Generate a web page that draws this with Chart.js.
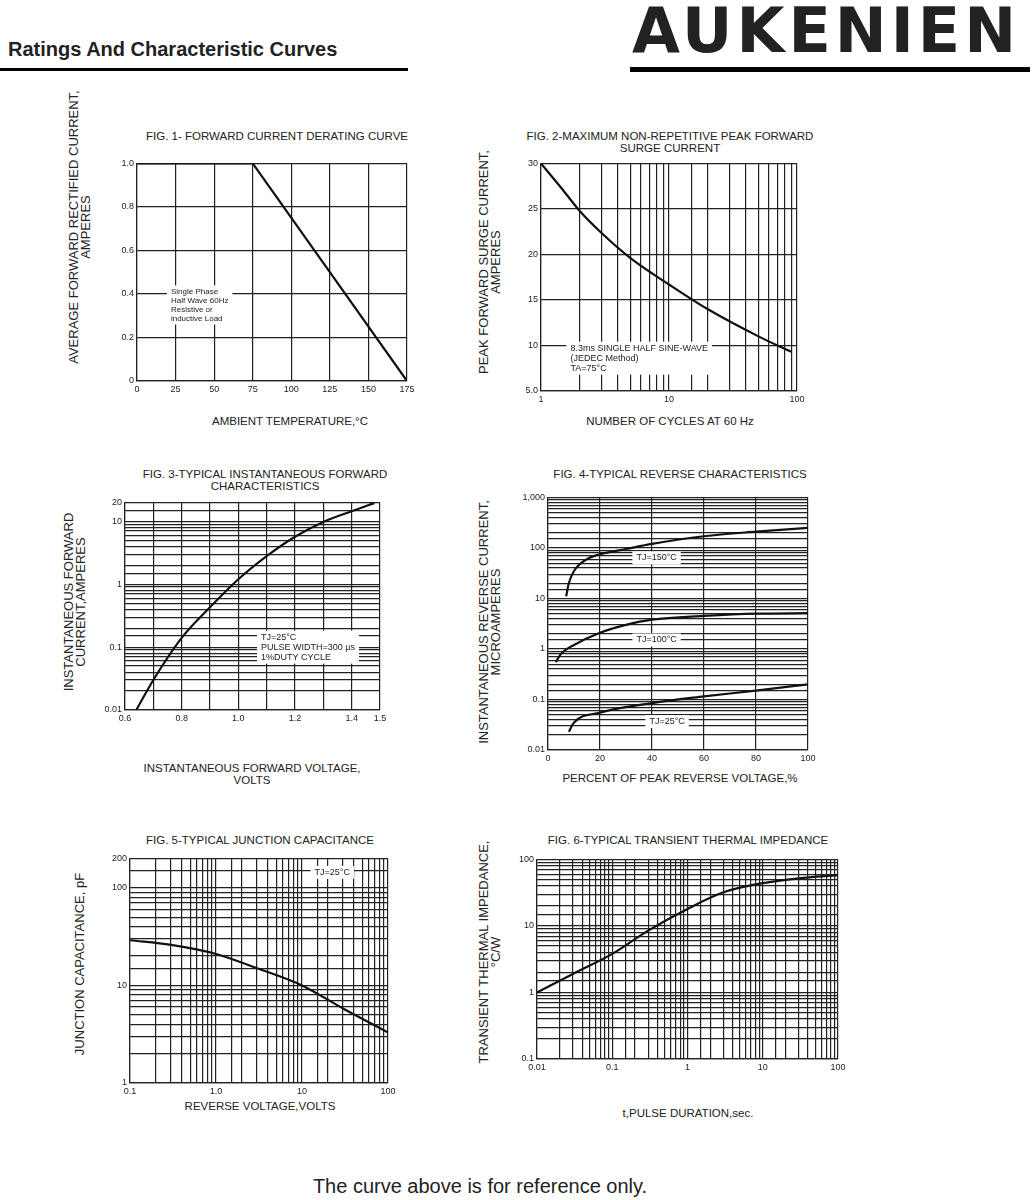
<!DOCTYPE html>
<html><head><meta charset="utf-8">
<script src="https://cdn.jsdelivr.net/npm/chart.js@4"></script>
<style>
body{margin:0;background:#fff;font-family:"Liberation Sans",Arial,sans-serif;}
#page{position:relative;width:1035px;height:1200px;}
.t{position:absolute;color:#222;white-space:nowrap;}
.ft{font-size:11.5px;text-align:center;line-height:12px;}
.xl{font-size:11.5px;text-align:center;}
.yl{font-size:13px;text-align:center;line-height:12px;transform:rotate(-90deg);transform-origin:center;}
canvas{position:absolute;}
</style></head><body><div id="page">
<div class="t" style="left:8px;top:38px;font-size:20px;font-weight:bold;">Ratings And Characteristic Curves</div>
<div style="position:absolute;left:0;top:68px;width:408px;height:3px;background:#000"></div>
<div class="t" style="left:632px;top:-6px;font-size:62px;font-weight:900;letter-spacing:4px;font-family:'DejaVu Sans';">AUKENIEN</div>
<div style="position:absolute;left:630px;top:67px;width:400px;height:5px;background:#000"></div>
<div class="t" style="left:0;width:960px;top:1175px;font-size:20px;text-align:center;">The curve above is for reference only.</div>

<div class="t ft" style="left:107px;width:340px;top:130px;">FIG. 1- FORWARD CURRENT DERATING CURVE</div>
<div class="t ft" style="left:500px;width:340px;top:130px;">FIG. 2-MAXIMUM NON-REPETITIVE PEAK FORWARD<br>SURGE CURRENT</div>
<div class="t ft" style="left:95px;width:340px;top:468px;">FIG. 3-TYPICAL INSTANTANEOUS FORWARD<br>CHARACTERISTICS</div>
<div class="t ft" style="left:510px;width:340px;top:468px;">FIG. 4-TYPICAL REVERSE CHARACTERISTICS</div>
<div class="t ft" style="left:90px;width:340px;top:834px;">FIG. 5-TYPICAL JUNCTION CAPACITANCE</div>
<div class="t ft" style="left:518px;width:340px;top:834px;">FIG. 6-TYPICAL TRANSIENT THERMAL IMPEDANCE</div>

<div class="t xl" style="left:120px;width:340px;top:415px;">AMBIENT TEMPERATURE,°C</div>
<div class="t xl" style="left:500px;width:340px;top:415px;">NUMBER OF CYCLES AT 60 Hz</div>
<div class="t xl" style="left:82px;width:340px;top:762px;line-height:12px;">INSTANTANEOUS FORWARD VOLTAGE,<br>VOLTS</div>
<div class="t xl" style="left:510px;width:340px;top:772px;">PERCENT OF PEAK REVERSE VOLTAGE,%</div>
<div class="t xl" style="left:90px;width:340px;top:1100px;">REVERSE VOLTAGE,VOLTS</div>
<div class="t xl" style="left:518px;width:340px;top:1107px;">t,PULSE DURATION,sec.</div>

<div class="t yl" style="left:-90px;width:340px;top:215px;">AVERAGE FORWARD RECTIFIED CURRENT,<br>AMPERES</div>
<div class="t yl" style="left:320px;width:340px;top:250px;">PEAK  FORWARD SURGE CURRENT,<br>AMPERES</div>
<div class="t yl" style="left:-75px;width:300px;top:590px;">INSTANTANEOUS FORWARD<br>CURRENT,AMPERES</div>
<div class="t yl" style="left:320px;width:340px;top:610px;">INSTANTANEOUS REVERSE CURRENT,<br>MICROAMPERES</div>
<div class="t yl" style="left:-90px;width:340px;top:958px;">JUNCTION CAPACITANCE, pF</div>
<div class="t yl" style="left:320px;width:340px;top:940px;">TRANSIENT THERMAL IMPEDANCE,<br>°C/W</div>
</div>
<script>
// Fig 1
const f1Temp = [0, 75, 175];
const f1Curr = [1, 1, 0];
// Fig 2
const f2Cycles = [1, 1.5, 2, 3, 5, 10, 20, 50, 90];
const f2Surge = [30, 27, 24.8, 22.3, 19.6, 16.7, 14, 11, 9.3];
// Fig 3
const f3Volt = [0.64, 0.7, 0.8, 0.9, 1.0, 1.1, 1.2, 1.3, 1.4, 1.48];
const f3Curr = [0.01, 0.03, 0.14, 0.43, 1.2, 2.8, 5.7, 9.8, 14.5, 19.5];
// Fig 4
const f4x150 = [7, 8, 10, 15, 20, 30, 40, 60, 80, 100];
const f4y150 = [11, 20, 35, 60, 75, 95, 120, 170, 210, 250];
const f4x100 = [3, 5, 10, 20, 30, 40, 60, 80, 100];
const f4y100 = [0.55, 0.8, 1.2, 2.1, 3, 3.8, 4.5, 5, 5.1];
const f4x25 = [8, 10, 20, 40, 60, 80, 100];
const f4y25 = [0.023, 0.035, 0.055, 0.085, 0.115, 0.15, 0.2];
// Fig 5
const f5Volt = [0.1, 0.3, 1, 3, 10, 30, 100];
const f5Cap = [29, 26, 21, 15, 10, 5.8, 3.3];
// Fig 6
const f6Time = [0.01, 0.03, 0.1, 0.3, 1, 3, 10, 30, 100];
const f6Imp = [1, 1.9, 3.8, 8.5, 18, 32, 44, 52, 58];

const YW = 45, XH = 22;
const page = document.getElementById('page');
const pts = (xs, ys) => xs.map((x, i) => ({x, y: ys[i]}));

const notes = {
  id: 'notes',
  afterDatasetsDraw(chart, a, opts) {
    const c = chart.ctx, xs = chart.scales.x, ys = chart.scales.y;
    (opts.items || []).forEach(n => {
      c.save();
      c.font = (n.size || 9) + 'px "Liberation Sans", Arial';
      const w = Math.max(...n.lines.map(l => c.measureText(l).width));
      const px = xs.getPixelForValue(n.x), py = ys.getPixelForValue(n.y);
      const lh = (n.size || 9) + 1;
      c.fillStyle = '#fff';
      c.fillRect(px - 4, py - 2, w + 8, lh * n.lines.length + 3);
      c.fillStyle = '#222';
      c.textBaseline = 'top';
      n.lines.forEach((l, i) => c.fillText(l, px, py + i * lh));
      c.restore();
    });
  }
};

function axis(type, min, max, labels, step) {
  const a = {
    type, min, max,
    grid: {color: '#222', lineWidth: 1.2, drawTicks: false},
    border: {color: '#222', width: 1.2},
    ticks: {
      color: '#222', font: {size: 9, family: 'Liberation Sans'}, autoSkip: false, maxRotation: 0, padding: 3,
      callback: v => { const k = labels.find(l => Math.abs(l[0] - v) < 1e-6 * Math.max(1, Math.abs(v))); return k ? k[1] : ''; }
    }
  };
  if (step) a.ticks.stepSize = step;
  return a;
}

function make(left, top, w, h, datasets, xs, ys, items, straight) {
  const cv = document.createElement('canvas');
  cv.style.left = (left - YW - 6) + 'px';
  cv.style.top = (top - 8) + 'px';
  cv.style.width = (w + YW + 20) + 'px';
  cv.style.height = (h + XH + 10) + 'px';
  page.appendChild(cv);
  xs.afterFit = s => { s.height = XH; };
  ys.afterFit = s => { s.width = YW; };
  new Chart(cv, {
    type: 'scatter',
    data: {datasets: datasets.map(d => ({data: d, showLine: true, borderColor: '#111', borderWidth: 2.2, pointRadius: 0,
      tension: straight ? 0 : 0.4, cubicInterpolationMode: straight ? 'default' : 'monotone'}))},
    options: {
      responsive: false, animation: false,
      layout: {padding: {left: 6, top: 8, right: 14, bottom: 2}},
      plugins: {legend: {display: false}, tooltip: {enabled: false}, notes: {items}},
      scales: {x: xs, y: ys}
    },
    plugins: [notes]
  });
}

make(137, 163, 270, 218, [pts(f1Temp, f1Curr)],
  axis('linear', 0, 175, [[0,'0'],[25,'25'],[50,'50'],[75,'75'],[100,'100'],[125,'125'],[150,'150'],[175,'175']], 25),
  axis('linear', 0, 1, [[0,'0'],[0.2,'0.2'],[0.4,'0.4'],[0.6,'0.6'],[0.8,'0.8'],[1,'1.0']], 0.2),
  [{x: 22, y: 0.43, lines: ['Single Phase', 'Half Wave 60Hz', 'Resistive or', 'inductive Load'], size: 8}], true);

make(541, 163, 256, 228, [pts(f2Cycles, f2Surge)],
  axis('logarithmic', 1, 100, [[1,'1'],[10,'10'],[100,'100']]),
  axis('linear', 5, 30, [[5,'5.0'],[10,'10'],[15,'15'],[20,'20'],[25,'25'],[30,'30']], 5),
  [{x: 1.7, y: 10.2, lines: ['8.3ms SINGLE HALF SINE-WAVE', '(JEDEC Method)', 'TA=75°C'], size: 9}]);

make(125, 502, 255, 208, [pts(f3Volt, f3Curr)],
  axis('linear', 0.6, 1.5, [[0.6,'0.6'],[0.8,'0.8'],[1.0,'1.0'],[1.2,'1.2'],[1.4,'1.4'],[1.5,'1.5']], 0.1),
  axis('logarithmic', 0.01, 20, [[0.01,'0.01'],[0.1,'0.1'],[1,'1'],[10,'10'],[20,'20']]),
  [{x: 1.08, y: 0.17, lines: ['TJ=25°C', 'PULSE WIDTH=300 µs', '1%DUTY CYCLE'], size: 9}]);

make(548, 497, 260, 253, [pts(f4x150, f4y150), pts(f4x100, f4y100), pts(f4x25, f4y25)],
  axis('linear', 0, 100, [[0,'0'],[20,'20'],[40,'40'],[60,'60'],[80,'80'],[100,'100']], 20),
  axis('logarithmic', 0.01, 1000, [[0.01,'0.01'],[0.1,'0.1'],[1,'1'],[10,'10'],[100,'100'],[1000,'1,000']]),
  [{x: 34, y: 78, lines: ['TJ=150°C']}, {x: 34, y: 1.85, lines: ['TJ=100°C']}, {x: 39, y: 0.045, lines: ['TJ=25°C']}]);

make(130, 858, 258, 225, [pts(f5Volt, f5Cap)],
  axis('logarithmic', 0.1, 100, [[0.1,'0.1'],[1,'1.0'],[10,'10'],[100,'100']]),
  axis('logarithmic', 1, 200, [[1,'1'],[10,'10'],[100,'100'],[200,'200']]),
  [{x: 14, y: 160, lines: ['TJ=25°C']}]);

make(537, 859, 301, 200, [pts(f6Time, f6Imp)],
  axis('logarithmic', 0.01, 100, [[0.01,'0.01'],[0.1,'0.1'],[1,'1'],[10,'10'],[100,'100']]),
  axis('logarithmic', 0.1, 100, [[0.1,'0.1'],[1,'1'],[10,'10'],[100,'100']]),
  []);
</script></body></html>
